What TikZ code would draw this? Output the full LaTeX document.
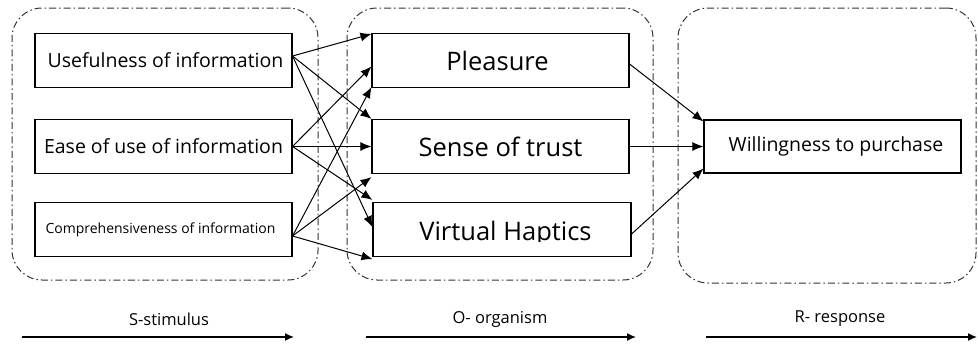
\documentclass[tikz,border=0pt]{standalone}
\usepackage{fontspec}
\setmainfont{Open Sans}
\usetikzlibrary{arrows.meta,calc}
\begin{document}
\begin{tikzpicture}[x=1pt,y=-1pt,
  grp/.style={draw=black!80, line width=1pt, rounded corners=30pt,
    dash pattern=on 7pt off 3pt on 1.5pt off 3pt, inner sep=0pt},
  box/.style={draw, line width=1.1pt, minimum width=257pt, minimum height=54pt, inner sep=0pt},
  link/.style={line width=1pt, -{Latex[length=11pt,width=9pt]}},
  stage/.style={line width=1.4pt, -{Latex[length=9pt,width=8pt]}},
  stagelabel/.style={font=\fontsize{16.5}{18}\selectfont},
  big/.style={font=\fontsize{25.5}{28}\selectfont},
]
\useasboundingbox (0,0) rectangle (978,343);

% three S-O-R groups
\node[grp, minimum width=306pt, minimum height=272pt] (Sg) at (165,144) {};
\node[grp, minimum width=306pt, minimum height=272pt] (Og) at (500,144) {};
\node[grp, minimum width=298pt, minimum height=275pt] (Rg) at (827,145.5) {};

% stimulus boxes
\node[box, font=\fontsize{19.5}{22}\selectfont] (U) at (163.5,60.5) {\hspace*{4pt}Usefulness of information};
\node[box, font=\fontsize{19.5}{22}\selectfont] (E) at (163.5,146.5) {Ease of use of information};
\node[box, font=\fontsize{14}{16}\selectfont] (C) at (163.5,229.5) {Comprehensiveness of information\hspace*{6pt}};

% organism boxes
\node[box, big] (P) at (500.5,60.5) {\raisebox{-2pt}{Pleasure}\hspace*{6pt}};
\node[box, big] (T) at (500.5,146.5) {\raisebox{-4.5pt}{Sense of trust}};
\node[box, minimum width=258pt, path picture={
    \clip (path picture bounding box.north west) rectangle
          ([yshift=15.5pt]path picture bounding box.south east);
    \node[big, anchor=base]
      at ([xshift=3.5pt,yshift=-10.5pt]path picture bounding box.center) {Virtual Haptics};}]
  (V) at (502,229.5) {};

% response box
\node[box, minimum height=53pt, font=\fontsize{19.5}{22}\selectfont] (W) at (832.5,146.5) {\hspace*{7pt}Willingness to purchase};

% stimulus -> organism
\coordinate (Uo) at ([yshift=4.5pt]U.east);
\coordinate (Eo) at (E.east);
\coordinate (Co) at ([yshift=-6.5pt]C.east);

\draw[link] (Uo) -- ([yshift=-1pt]P.north west);
\draw[link] (Uo) -- (T.north west);
\draw[link] (Uo) -- ([yshift=2.5pt]V.west);
\draw[link] (Eo) -- ([yshift=-6pt]P.west);
\draw[link] (Eo) -- (T.west);
\draw[link] (Eo) -- ([yshift=2pt]V.north west);
\draw[link] (Co) -- ([yshift=1pt]P.south west);
\draw[link] (Co) -- ([yshift=-3pt]T.south west);
\draw[link] (Co) -- ([yshift=-2pt]V.south west);

% organism -> response
\draw[link] ([yshift=-3.5pt]P.east) -- ([yshift=-2pt]W.north west);
\draw[link] (T.east) -- (W.west);
\draw[link] ([yshift=-4.5pt]V.east) -- ([yshift=5pt]W.south west);

% stage arrows along the bottom
\coordinate (s1) at (22,337);  \coordinate (s2) at (294,337);
\coordinate (o1) at (366,337); \coordinate (o2) at (636,337);
\coordinate (r1) at (706,337); \coordinate (r2) at (977,337);
\draw[stage] (s1) -- (s2);
\draw[stage] (o1) -- (o2);
\draw[stage] (r1) -- (r2);
\node[stagelabel] (sl) at (169,319) {S-stimulus};
\node[stagelabel] (ol) at (500,319) {O- organism};
\node[stagelabel] (rl) at (840,319) {R- response};
\end{tikzpicture}
\end{document}
